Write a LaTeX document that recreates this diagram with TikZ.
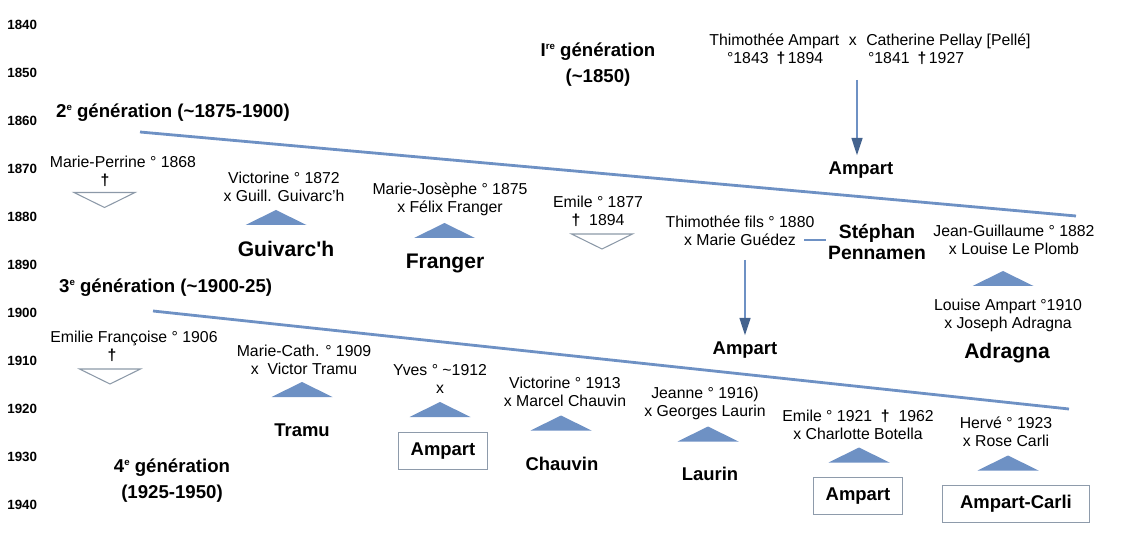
\documentclass[tikz,border=0pt]{standalone}
\usepackage{fontspec}
\setmainfont{Liberation Sans}
\usetikzlibrary{arrows.meta}
\definecolor{kinblue}{HTML}{6E91C4}
\definecolor{kinhead}{HTML}{44638E}
\definecolor{deadgray}{HTML}{8C99A8}
\definecolor{boxgray}{HTML}{8E9BAB}
\newcommand{\gsup}[1]{\raisebox{0.75ex}{\fontsize{5.5}{6}\selectfont #1}}
\newcommand{\dg}{\textbf{†}}

\begin{document}
\begin{tikzpicture}[x=0.02cm, y=-0.02cm,
  entry/.style={align=center, font=\fontsize{9}{10.2}\selectfont, inner sep=1pt},
  fam/.style={align=center, font=\fontsize{10.5}{12}\selectfont\bfseries},
  bigfam/.style={align=center, font=\fontsize{12}{13}\selectfont\bfseries},
  famrect/.style={fam, draw=boxgray, line width=0.6pt, minimum width=51pt, minimum height=21.5pt},
  gen/.style={align=center, font=\fontsize{10.6}{14.7}\selectfont\bfseries},
  yr/.style={anchor=west, font=\fontsize{7.6}{9}\selectfont\bfseries, inner sep=0pt},
  kin/.style={fill=kinblue},
  dead/.style={draw=deadgray, line width=0.6pt, line join=miter},
  sepline/.style={draw=kinblue, line width=1.6pt},
  descent/.style={draw=kinblue, line width=1.5pt, -{Triangle[length=10pt,width=6pt,color=kinhead]}},
  link/.style={draw=kinblue, line width=1.6pt}]
  \useasboundingbox (0,0) rectangle (1122,560);

  % time scale
  \foreach \yy [count=\i from 0] in {1840,1850,...,1940}
    \node[yr] (y\yy) at (7,{25+48*\i}) {\yy};

  % generation titles and separators
  \node[gen] (gen1) at (598,65) {I\gsup{re} génération\\(\textasciitilde1850)};
  \node[gen, anchor=west] (gen2) at (50,113) {2\gsup{e} génération (\textasciitilde1875-1900)};
  \node[gen, anchor=west] (gen3) at (53,288) {3\gsup{e} génération (\textasciitilde1900-25)};
  \node[gen] (gen4) at (172,480.5) {4\gsup{e} génération\\(1925-1950)};
  \coordinate (sep2a) at (140,132);
  \coordinate (sep2b) at (1076,216);
  \coordinate (sep3a) at (153,311);
  \coordinate (sep3b) at (1069,409);
  \draw[sepline] (sep2a) -- (sep2b);
  \draw[sepline] (sep3a) -- (sep3b);

  % first generation
  \node[entry] (couple) at (870,41) {Thimothée Ampart\hspace{0.6em}x\hspace{0.6em}Catherine Pellay [Pellé]};
  \node[entry, anchor=west] (tdates) at (725,58) {°1843\hspace{0.5em}\dg\,1894};
  \node[entry, anchor=west] (cdates) at (866,58) {°1841\hspace{0.5em}\dg\,1927};
  \node[fam] (amp1) at (861,170) {Ampart};
  \coordinate (c0) at (857,80);
  \draw[descent] (c0) -- (c0 |- amp1.north);

  % second generation
  \node[entry] (mperr) at (123,162) {Marie-Perrine ° 1868};
  \node[entry] (mperrd) at (105,180) {\dg};
  \node[entry] (victo) at (284,186.5) {Victorine ° 1872\\x Guill. Guivarc'h};
  \node[bigfam] (guiv) at (286,249) {Guivarc\textquotesingle h};
  \node[entry] (mjos) at (450,199) {Marie-Josèphe ° 1875\\x Félix Franger};
  \node[bigfam] (frang) at (445,263) {Franger};
  \node[entry] (emile) at (598,211) {Emile ° 1877\\\dg\ \ 1894};
  \node[entry] (thim) at (740,230.5) {Thimothée fils ° 1880\\x Marie Guédez};
  \node[fam, font=\fontsize{11}{12}\selectfont\bfseries, inner sep=1pt] (steph) at (877,242) {Stéphan\\Pennamen};
  \coordinate (guedez) at (804,240);
  \draw[link] (guedez) -- (guedez -| steph.west);
  \node[fam] (amp2) at (745,350) {Ampart};
  \coordinate (c1) at (745,260);
  \draw[descent] (c1) -- (c1 |- amp2.north);
  \node[entry] (jeang) at (1014,240) {Jean-Guillaume ° 1882\\x Louise Le Plomb};
  \node[entry] (louise) at (1008,315.5) {Louise Ampart °1910\\x Joseph Adragna};
  \node[bigfam] (adra) at (1007,353) {Adragna};

  % third generation
  \node[entry] (emfr) at (134,338) {Emilie Françoise ° 1906};
  \node[entry] (emfrd) at (112,355) {\dg};
  \node[entry] (mcath) at (304,359.5) {Marie-Cath. ° 1909\\x\ \ Victor Tramu};
  \node[fam] (tramu) at (302,430) {Tramu};
  \node[entry] (yves) at (440,379) {Yves ° \textasciitilde1912\\x};
  \node[famrect] (ampbox1) at (443,451) {Ampart};
  \node[entry] (victo2) at (565,392) {Victorine ° 1913\\x Marcel Chauvin};
  \node[fam] (chauv) at (562,464) {Chauvin};
  \node[entry] (jeanne) at (705,403) {Jeanne ° 1916)\\x Georges Laurin};
  \node[fam] (laurin) at (710,474) {Laurin};
  \node[entry] (emile2) at (858,424.5) {Emile ° 1921\ \ \dg\ \ 1962\\x Charlotte Botella};
  \node[famrect] (ampbox2) at (858,496) {Ampart};
  \node[entry] (herve) at (1006,431.5) {Hervé ° 1923\\x Rose Carli};
  \node[famrect, minimum width=84pt] (carli) at (1016,504) {Ampart-Carli};

  % marriages with descent
  \foreach \x/\y in {276/217.5, 444.5/230.5, 1003/278.5, 302/389.5, 440/409.5,
                     561/423, 708/434, 859/455, 1008/463}
    \fill[kin] (\x,\y) ++(-30.5,7.5) -- ++(30.5,-15) -- ++(30.5,15) -- cycle;
  % died without descent
  \foreach \x/\y in {104.5/200, 602/241.5, 110/376.5}
    \draw[dead] (\x,\y) ++(-30.5,-7.5) -- ++(61,0) -- ++(-30.5,15) -- cycle;
\end{tikzpicture}
\end{document}
